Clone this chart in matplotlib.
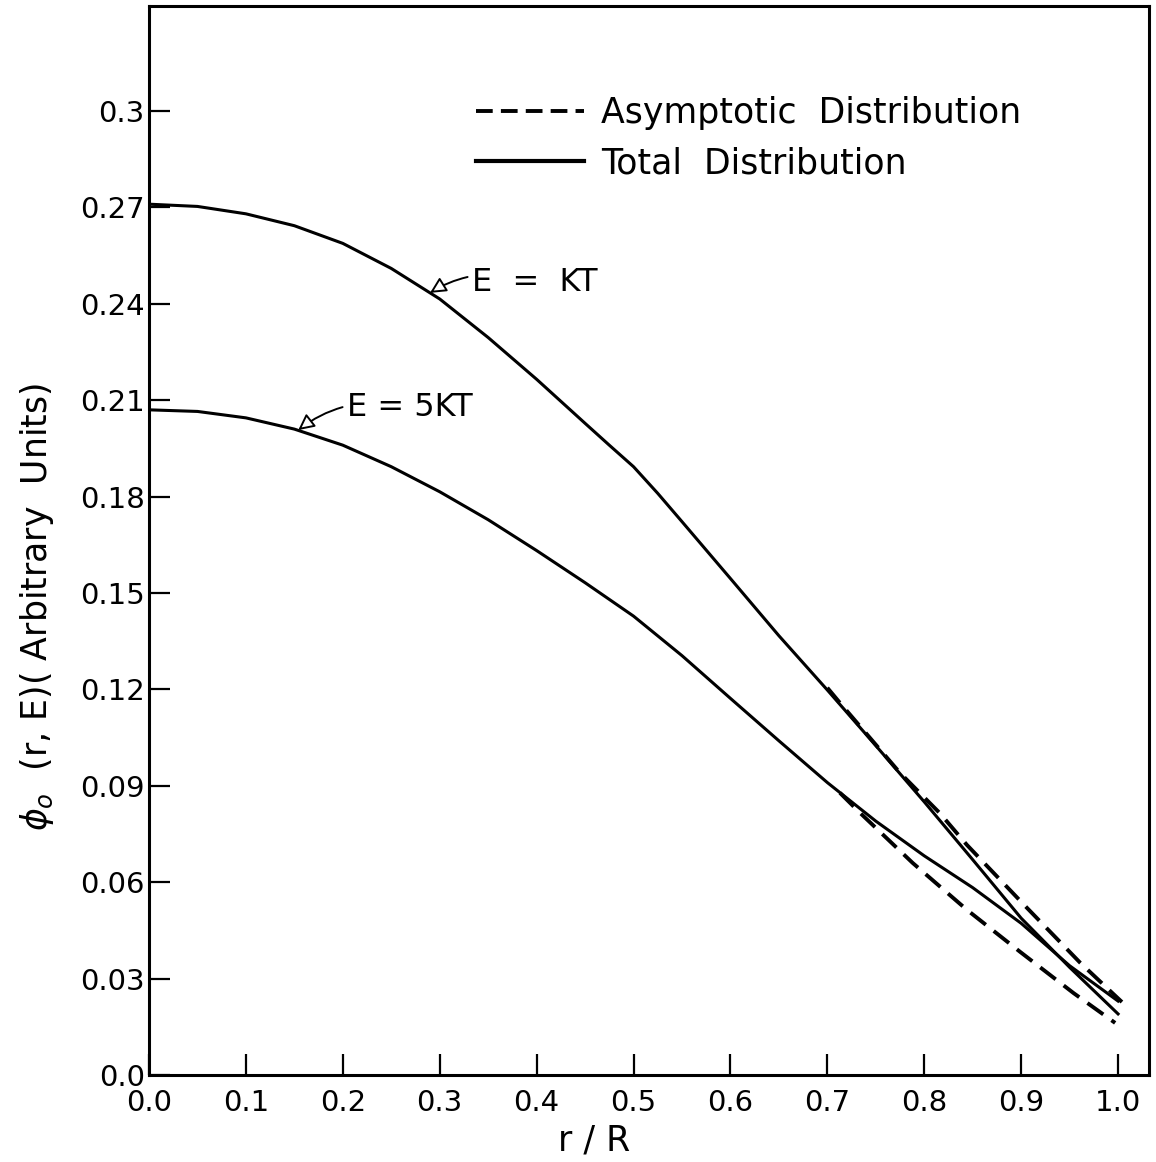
import numpy as np
import matplotlib
matplotlib.use('Agg')
import matplotlib.pyplot as plt
from matplotlib.lines import Line2D

# flux shape across the cell for each energy group
r_kt = [0.0, 0.05, 0.10, 0.15, 0.20, 0.25, 0.30, 0.35, 0.40, 0.45, 0.475,
        0.50, 0.525, 0.55, 0.60, 0.65, 0.70, 0.75, 0.80, 0.85, 0.90, 0.95, 1.0]
phi_kt = [0.2710, 0.2703, 0.2680, 0.2643, 0.2588, 0.2510, 0.2415, 0.2295, 0.2165, 0.2028, 0.1960,
          0.1893, 0.1810, 0.1722, 0.1545, 0.1367, 0.1198, 0.1025, 0.0850, 0.0670, 0.0488, 0.0335, 0.019]

r_5kt = [0.0, 0.05, 0.10, 0.15, 0.20, 0.25, 0.30, 0.35, 0.40, 0.45, 0.50,
         0.55, 0.60, 0.65, 0.70, 0.75, 0.80, 0.85, 0.90, 0.95, 1.0]
phi_5kt = [0.2070, 0.2065, 0.2045, 0.2010, 0.1960, 0.1893, 0.1815, 0.1728, 0.1632, 0.1532, 0.1428,
           0.1305, 0.1172, 0.1040, 0.0910, 0.0790, 0.0682, 0.0583, 0.0472, 0.0340, 0.023]

# asymptotic parts (only near the edge)
r_kt_asy = [0.70, 0.713, 0.775, 0.816, 0.844, 0.906, 0.961, 1.004]
phi_kt_asy = [0.1205, 0.1158, 0.0940, 0.0815, 0.0716, 0.0520, 0.0349, 0.0227]

r_5kt_asy = [0.713, 0.734, 0.788, 0.844, 0.899, 0.954, 0.997]
phi_5kt_asy = [0.0878, 0.0815, 0.0660, 0.0514, 0.0383, 0.0255, 0.0162]

xticks = [0.0, 0.1, 0.2, 0.3, 0.4, 0.5, 0.6, 0.7, 0.8, 0.9, 1.0]
xlabels = ['0.0', '0.1', '0.2', '0.3', '0.4', '0.5', '0.6', '0.7', '0.8', '0.9', '1.0']
yticks = [0.0, 0.03, 0.06, 0.09, 0.12, 0.15, 0.18, 0.21, 0.24, 0.27, 0.3]
ylabels = ['0.0', '0.03', '0.06', '0.09', '0.12', '0.15', '0.18', '0.21', '0.24', '0.27', '0.3']

#%%
fig = plt.figure(figsize=(11.56, 11.62), dpi=100)
ax = fig.add_axes([0.1289, 0.0749, 0.8651, 0.920])

lw = 2.2
dash = (0, (5, 2.6))
ax.plot(r_kt, phi_kt, color='black', lw=lw)
ax.plot(r_5kt, phi_5kt, color='black', lw=lw)
ax.plot(r_kt_asy, phi_kt_asy, color='black', lw=2.8, linestyle=dash)
ax.plot(r_5kt_asy, phi_5kt_asy, color='black', lw=2.8, linestyle=dash)

ax.set_xlim(0, 1.032)
ax.set_ylim(0, 0.3327)
ax.set_xticks(xticks)
ax.set_xticklabels(xlabels)
ax.set_yticks(yticks)
ax.set_yticklabels(ylabels)
ax.tick_params(direction='in', length=15, width=1.6, labelsize=21)
ax.tick_params(axis='x', pad=10)
ax.tick_params(axis='y', pad=3)
for s in ax.spines.values():
    s.set_linewidth(2.2)

ax.set_xlabel('r / R', fontsize=25)
ax.xaxis.set_label_coords(0.445, -0.045)
ax.set_ylabel(r'$\phi_o$  (r, E)( Arbitrary  Units)', fontsize=25)
ax.yaxis.set_label_coords(-0.093, 0.438)

# curve labels with little arrows
arrow = dict(arrowstyle='-|>', connectionstyle='arc3,rad=0.25',
             fc='white', ec='black', lw=1.4, mutation_scale=24, shrinkA=1, shrinkB=0)
ax.annotate('E  =  KT', xy=(0.290, 0.2434), xytext=(0.333, 0.2465),
            fontsize=23, ha='left', va='center', arrowprops=arrow)
ax.annotate('E = 5KT', xy=(0.154, 0.2007), xytext=(0.204, 0.2076),
            fontsize=23, ha='left', va='center', arrowprops=arrow)

handles = [Line2D([], [], color='black', lw=2.8, linestyle=(0, (4.3, 2.1))),
           Line2D([], [], color='black', lw=3.0)]
ax.legend(handles, ['Asymptotic  Distribution', 'Total  Distribution'],
          loc='upper left', bbox_to_anchor=(0.31, 0.9317), frameon=False,
          fontsize=25, handlelength=3.1, handletextpad=0.5, labelspacing=0.47,
          borderpad=0)

plt.savefig('out.png', dpi=100)
